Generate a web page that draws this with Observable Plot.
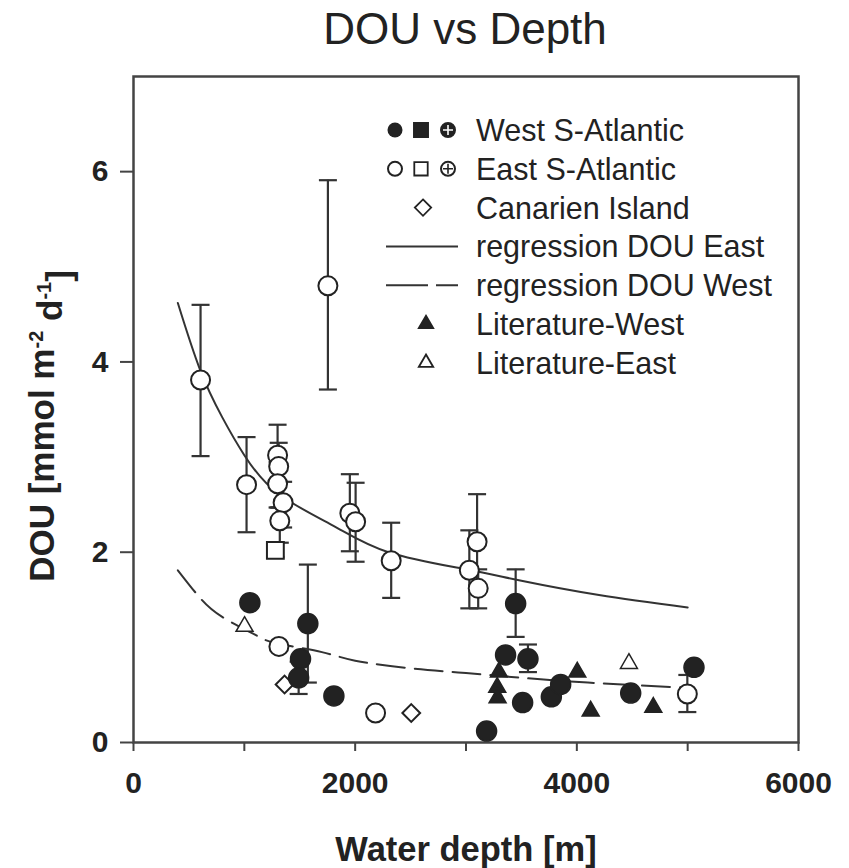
<!DOCTYPE html>
<html><head><meta charset="utf-8">
<script src="https://cdn.jsdelivr.net/npm/d3@7"></script>
<script src="https://cdn.jsdelivr.net/npm/@observablehq/plot@0.6"></script>
<style>body{margin:0;background:#fff;}</style>
</head><body><div id="chart"></div>
<script>
// ---- Data ----
// East S-Atlantic (open circles): depth [m], DOU, error low, error high (null = no bar)
const eastDepth = [605, 1754, 1020, 1300, 1310, 1300, 1350, 1320, 1952, 2004, 2325, 3030, 3100, 3110, 4997, 1312, 2184];
const eastDOU   = [3.81, 4.80, 2.71, 3.02, 2.90, 2.72, 2.52, 2.33, 2.41, 2.32, 1.91, 1.81, 2.11, 1.62, 0.51, 1.01, 0.31];
const eastLow   = [3.01, 3.71, 2.21, 2.74, 2.47, 2.47, 2.26, 2.10, 2.01, 1.90, 1.52, 1.41, 1.65, 1.41, 0.32, null, null];
const eastHigh  = [4.60, 5.91, 3.21, 3.34, 3.15, 2.95, 2.74, 2.47, 2.82, 2.73, 2.31, 2.23, 2.61, 1.82, 0.71, null, null];
// East S-Atlantic (open square)
const eastSqDepth = [1280];
const eastSqDOU   = [2.02];
const eastSqLow   = [1.95];
const eastSqHigh  = [2.10];
// West S-Atlantic (filled circles)
const westDepth = [1050, 1573, 1507, 1490, 1808, 3186, 3448, 3357, 3559, 3511, 3770, 3854, 4486, 5057];
const westDOU   = [1.47, 1.25, 0.88, 0.68, 0.49, 0.12, 1.46, 0.92, 0.88, 0.42, 0.48, 0.61, 0.52, 0.79];
const westLow   = [null, 0.63, null, 0.51, null, null, 1.11, null, 0.74, null, null, null, null, null];
const westHigh  = [null, 1.87, null, 0.85, null, null, 1.82, null, 1.03, null, null, null, null, null];
// Canarien Island (open diamonds)
const canDepth = [1363, 2506];
const canDOU   = [0.61, 0.31];
// Literature-West (filled triangles)
const litWDepth = [3297, 3282, 3285, 4004, 4125, 4690];
const litWDOU   = [0.74, 0.58, 0.47, 0.74, 0.33, 0.37];
// Literature-East (open triangles)
const litEDepth = [1002, 4470];
const litEDOU   = [1.22, 0.83];
// Regression curves
const regEDepth = [400, 600, 800, 1000, 1300, 1800, 2300, 3000, 3500, 4200, 5000];
const regEDOU   = [4.62, 3.92, 3.42, 3.02, 2.62, 2.28, 2.00, 1.82, 1.70, 1.55, 1.42];
const regWDepth = [400, 600, 800, 1100, 1300, 1700, 2000, 2500, 3000, 3500, 4100, 5000];
const regWDOU   = [1.81, 1.52, 1.32, 1.13, 1.04, 0.95, 0.86, 0.78, 0.73, 0.68, 0.63, 0.575];
// Axes
const xTicks = [0, 1000, 2000, 3000, 4000, 5000, 6000];
const xLabelled = [0, 2000, 4000, 6000];
const yTicks = [0, 2, 4, 6];
const titleText = "DOU vs Depth";
const xTitle = "Water depth [m]";
const legendLabels = ["West S-Atlantic", "East S-Atlantic", "Canarien Island", "regression DOU East", "regression DOU West", "Literature-West", "Literature-East"];

// ---- Tables ----
const zip = (xs, ys, lo, hi) => xs.map((x, i) => ({x, y: ys[i], lo: lo ? lo[i] : null, hi: hi ? hi[i] : null}));
const east = zip(eastDepth, eastDOU, eastLow, eastHigh);
const eastSq = zip(eastSqDepth, eastSqDOU, eastSqLow, eastSqHigh);
const west = zip(westDepth, westDOU, westLow, westHigh);
const can = zip(canDepth, canDOU);
const litW = zip(litWDepth, litWDOU);
const litE = zip(litEDepth, litEDOU);
const regE = zip(regEDepth, regEDOU);
const regW = zip(regWDepth, regWDOU);
const bars = [...east, ...eastSq, ...west].filter(d => d.lo != null);

const ink = "#222";
const cap = {draw(ctx) { ctx.moveTo(-9, 0); ctx.lineTo(9, 0); }};
const font = "'Liberation Sans', Arial, sans-serif";

const chart = Plot.plot({
  width: 849, height: 868,
  marginLeft: 133, marginRight: 51, marginTop: 76, marginBottom: 126,
  style: {fontFamily: font, color: ink, background: "#fff", overflow: "visible"},
  x: {domain: [0, 6000]},
  y: {domain: [0, 7]},
  marks: [
    Plot.axisX({ticks: xTicks, tickSize: 9, tickPadding: 20, fontSize: 30, fontWeight: "bold",
      tickFormat: d => xLabelled.includes(d) ? String(d) : "", label: null, strokeWidth: 2, stroke: "#444"}),
    Plot.axisY({ticks: yTicks, tickSize: 13, tickPadding: 12, fontSize: 30, fontWeight: "bold",
      tickFormat: d => String(d), label: null, strokeWidth: 2, stroke: "#444"}),
    Plot.frame({stroke: "#444", strokeWidth: 2.5}),
    Plot.line(regE, {x: "x", y: "y", curve: "natural", stroke: "#333", strokeWidth: 2}),
    Plot.line(regW, {x: "x", y: "y", curve: "natural", stroke: "#333", strokeWidth: 2, strokeDasharray: "28,10"}),
    Plot.ruleX(bars, {x: "x", y1: "lo", y2: "hi", stroke: "#333", strokeWidth: 2.2}),
    Plot.dot(bars, {x: "x", y: "lo", symbol: cap, stroke: "#333", strokeWidth: 2.2}),
    Plot.dot(bars, {x: "x", y: "hi", symbol: cap, stroke: "#333", strokeWidth: 2.2}),
    Plot.dot(east, {x: "x", y: "y", r: 9.5, fill: "#fff", stroke: ink, strokeWidth: 2}),
    Plot.dot(eastSq, {x: "x", y: "y", symbol: "square", r: 9.5, fill: "#fff", stroke: ink, strokeWidth: 2}),
    Plot.dot(can, {x: "x", y: "y", symbol: "diamond2", r: 8, fill: "#fff", stroke: ink, strokeWidth: 2}),
    Plot.dot(litE, {x: "x", y: "y", symbol: "triangle", r: 6.3, fill: "#fff", stroke: ink, strokeWidth: 1.5}),
    Plot.dot(west, {x: "x", y: "y", r: 10, fill: ink, stroke: ink}),
    Plot.dot(litW, {x: "x", y: "y", symbol: "triangle", r: 6.3, fill: ink, stroke: ink})
  ]
});
document.getElementById("chart").appendChild(chart);

// ---- Title, axis titles, legend ----
const svg = d3.select(chart);
svg.append("text").attr("x", 465).attr("y", 44).attr("text-anchor", "middle")
  .attr("font-family", font).attr("font-size", 44).attr("fill", ink).text(titleText);
svg.append("text").attr("x", 466).attr("y", 861).attr("text-anchor", "middle")
  .attr("font-family", font).attr("font-size", 34.5).attr("font-weight", "bold").attr("fill", ink).text(xTitle);
const yl = svg.append("text").attr("transform", "translate(54,426) rotate(-90)").attr("text-anchor", "middle")
  .attr("font-family", font).attr("font-size", 35).attr("font-weight", "bold").attr("fill", ink);
yl.append("tspan").text("DOU [mmol m");
yl.append("tspan").attr("dy", "-0.55em").attr("font-size", 20).text("-2");
yl.append("tspan").attr("dy", "0.55em").text(" d");
yl.append("tspan").attr("dy", "-0.55em").attr("font-size", 20).text("-1");
yl.append("tspan").attr("dy", "0.55em").text("]");

const lg = svg.append("g").attr("font-family", font).attr("fill", ink).attr("text-anchor", "start");
const rowY = i => 130 + i * 38.8;
legendLabels.forEach((t, i) => {
  lg.append("text").attr("x", 476).attr("y", rowY(i)).attr("dy", "0.36em")
    .attr("text-anchor", "start").attr("font-size", 30.5).text(t);
});
const sym = (type, x, y, size, filled) => lg.append("path")
  .attr("d", d3.symbol(type, size)()).attr("transform", `translate(${x},${y})`)
  .attr("fill", filled ? ink : "#fff").attr("stroke", ink).attr("stroke-width", 1.8);
const plusCircle = (x, y, filled) => {
  lg.append("circle").attr("cx", x).attr("cy", y).attr("r", 7).attr("fill", filled ? ink : "#fff").attr("stroke", ink).attr("stroke-width", 2);
  lg.append("path").attr("d", `M${x-5},${y}H${x+5}M${x},${y-5}V${y+5}`).attr("stroke", filled ? "#fff" : ink).attr("stroke-width", 1.6);
};
// row 0: West
lg.append("circle").attr("cx", 395).attr("cy", rowY(0)).attr("r", 7.5).attr("fill", ink);
sym(d3.symbolSquare, 421, rowY(0), 200, true);
plusCircle(448, rowY(0), true);
// row 1: East
lg.append("circle").attr("cx", 395).attr("cy", rowY(1)).attr("r", 7).attr("fill", "#fff").attr("stroke", ink).attr("stroke-width", 2);
sym(d3.symbolSquare, 421, rowY(1), 180, false);
plusCircle(448, rowY(1), false);
// row 2: diamond
sym(d3.symbolDiamond2, 423, rowY(2), 170, false);
// rows 3-4: lines
lg.append("path").attr("d", `M386,${rowY(3)}H458`).attr("stroke", "#333").attr("stroke-width", 2);
lg.append("path").attr("d", `M386,${rowY(4)}H458`).attr("stroke", "#333").attr("stroke-width", 2).attr("stroke-dasharray", "42,8");
// rows 5-6: triangles
sym(d3.symbolTriangle, 426, rowY(5), 90, true);
sym(d3.symbolTriangle, 426, rowY(6), 90, false);
</script></body></html>
